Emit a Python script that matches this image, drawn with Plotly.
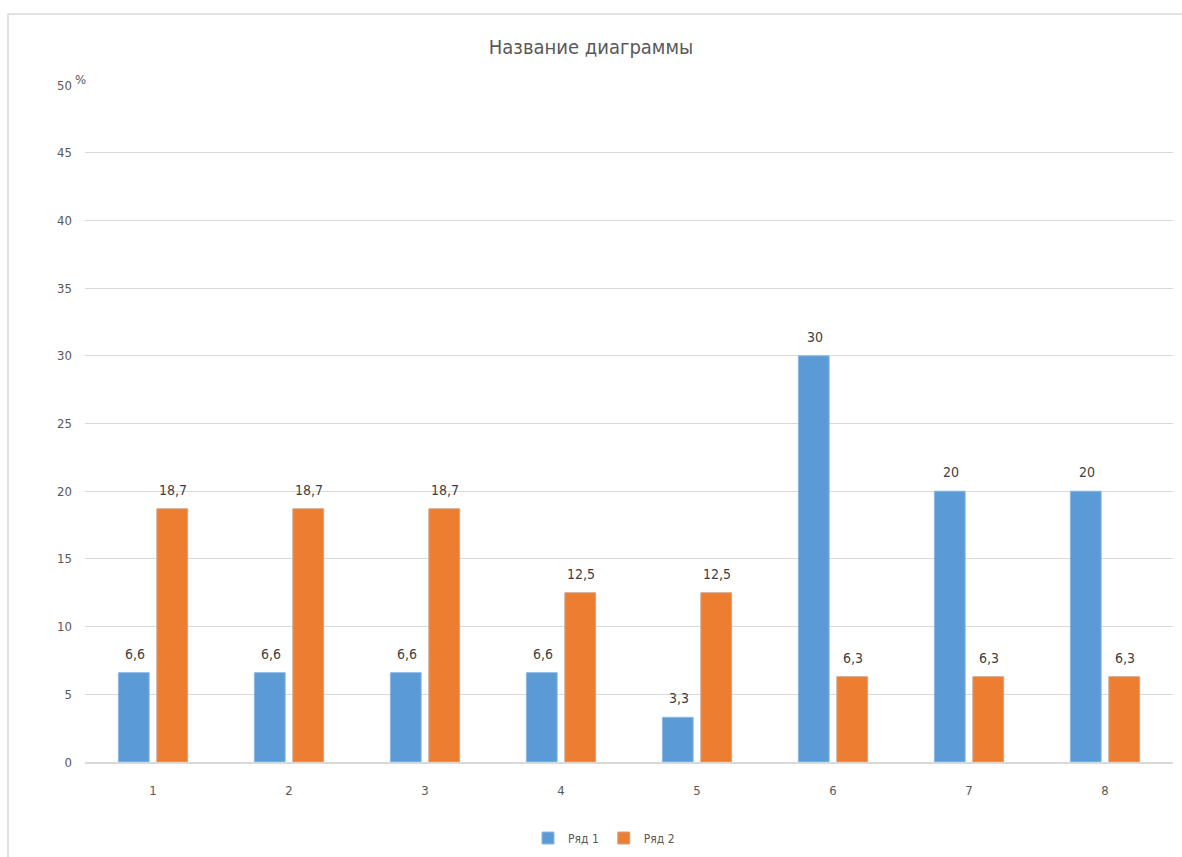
import plotly.graph_objects as go

categories = ["1", "2", "3", "4", "5", "6", "7", "8"]
series1 = [6.6, 6.6, 6.6, 6.6, 3.3, 30, 20, 20]
series2 = [18.7, 18.7, 18.7, 12.5, 12.5, 6.3, 6.3, 6.3]
series_names = ["Ряд 1", "Ряд 2"]
y_ticks = [0, 5, 10, 15, 20, 25, 30, 35, 40, 45, 50]

FONT = "DejaVu Sans Condensed, Liberation Sans Narrow, Open Sans, sans-serif"
TEXT = "#595959"
BLUE = "#5B9BD5"
ORANGE = "#ED7D31"

W, H = 1182, 857
ML, MR, MT, MB = 85, 9, 85, 95
plot_w = W - ML - MR
plot_h = H - MT - MB

fig = go.Figure()
fig.add_trace(go.Bar(x=categories, y=series1, name=series_names[0],
                     marker=dict(color=BLUE, line=dict(color="#8DB8E4", width=1))))
fig.add_trace(go.Bar(x=categories, y=series2, name=series_names[1],
                     marker=dict(color=ORANGE, line=dict(color="#C9A48C", width=1))))

# value labels above each bar (x given as category index)
bargap, groupgap = 0.434, 0.2
slot_px = plot_w / len(categories) * (1 - bargap) / 2
offsets = [-slot_px / 2 + 1, slot_px / 2 + 1]
annotations = []
for vals, dx in zip([series1, series2], offsets):
    for i, v in enumerate(vals):
        txt = f"{v:g}".replace(".", ",")
        annotations.append(dict(x=i, y=v, xref="x", yref="y", text=txt,
                                showarrow=False, xshift=dx, yshift=19,
                                font=dict(family=FONT, size=14, color="#404040")))

# percent sign next to the top tick
annotations.append(dict(x=0, y=50, xref="paper", yref="y", text="%",
                        showarrow=False, xanchor="right", xshift=3, yshift=6,
                        font=dict(family=FONT, size=13, color=TEXT)))

fig.update_layout(
    width=W, height=H,
    margin=dict(l=ML, r=MR, t=MT, b=MB, autoexpand=False),
    paper_bgcolor="white", plot_bgcolor="white",
    separators=", ",
    barmode="group", bargap=bargap, bargroupgap=groupgap,
    title=dict(text="Название диаграммы", x=0.5, xanchor="center",
               y=1 - 47 / H, yanchor="middle", yref="container",
               font=dict(family=FONT, size=20, color=TEXT)),
    font=dict(family=FONT, size=13, color=TEXT),
    legend=dict(orientation="h", x=(604 - ML) / plot_w, xanchor="center",
                y=-(838 - (H - MB)) / plot_h, yanchor="middle",
                font=dict(family=FONT, size=12, color=TEXT),
                itemwidth=30, traceorder="normal"),
    annotations=annotations,
    shapes=[dict(type="rect", xref="paper", yref="paper",
                 x0=(8 - ML) / plot_w, x1=(W + 20 - ML) / plot_w,
                 y0=-(H + 20 - (H - MB)) / plot_h, y1=((H - MB) - 14) / plot_h,
                 line=dict(color="#D9D9D9", width=1.5), layer="below")],
)
fig.update_xaxes(type="category", range=[-0.5, 7.5], showgrid=False, showline=True,
                 linecolor="#D9D9D9", linewidth=1.5, ticks="", automargin=False,
                 ticklabelstandoff=16, tickfont=dict(family=FONT, size=13, color=TEXT))
fig.update_yaxes(range=[0, 50], tickvals=y_ticks, showgrid=True,
                 gridcolor="#D9D9D9", gridwidth=1, zeroline=False, automargin=False,
                 showline=False, ticks="", ticklabelstandoff=12,
                 tickfont=dict(family=FONT, size=13, color=TEXT))

fig.write_html("out.html")
